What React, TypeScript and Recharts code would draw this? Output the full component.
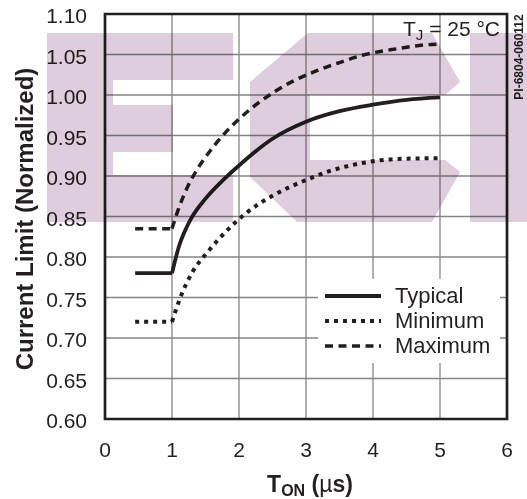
import React from 'react';
import { LineChart, Line, XAxis, YAxis, CartesianGrid, ReferenceArea, Legend, Customized } from 'recharts';

const xTicks = [0, 1, 2, 3, 4, 5, 6];
const yTicks = [0.6, 0.65, 0.7, 0.75, 0.8, 0.85, 0.9, 0.95, 1.0, 1.05, 1.1];

const typical = [
  { x: 0.45, y: 0.78 }, { x: 1.0, y: 0.78 }, { x: 1.1, y: 0.812 }, { x: 1.25, y: 0.842 },
  { x: 1.5, y: 0.872 }, { x: 1.75, y: 0.894 }, { x: 2.0, y: 0.913 }, { x: 2.5, y: 0.946 },
  { x: 3.0, y: 0.967 }, { x: 3.5, y: 0.98 }, { x: 4.0, y: 0.988 }, { x: 4.5, y: 0.994 },
  { x: 5.0, y: 0.997 },
];

const minimum = [
  { x: 0.45, y: 0.72 }, { x: 1.0, y: 0.72 }, { x: 1.12, y: 0.749 }, { x: 1.31, y: 0.782 },
  { x: 1.54, y: 0.807 }, { x: 1.86, y: 0.836 }, { x: 2.12, y: 0.855 }, { x: 2.53, y: 0.877 },
  { x: 3.0, y: 0.895 }, { x: 3.35, y: 0.906 }, { x: 3.84, y: 0.916 }, { x: 4.35, y: 0.921 },
  { x: 5.0, y: 0.922 },
];

const maximum = [
  { x: 0.45, y: 0.835 }, { x: 1.0, y: 0.835 }, { x: 1.1, y: 0.86 }, { x: 1.24, y: 0.888 },
  { x: 1.39, y: 0.91 }, { x: 1.56, y: 0.93 }, { x: 1.79, y: 0.953 }, { x: 2.01, y: 0.971 },
  { x: 2.27, y: 0.989 }, { x: 2.53, y: 1.004 }, { x: 2.83, y: 1.018 }, { x: 3.16, y: 1.03 },
  { x: 3.5, y: 1.04 }, { x: 3.84, y: 1.049 }, { x: 4.35, y: 1.057 }, { x: 4.8, y: 1.062 },
  { x: 5.0, y: 1.063 },
];

const seriesNames = ['Typical', 'Minimum', 'Maximum'];
const seriesData = [typical, minimum, maximum];

const INK = '#231f20';
const FONT = '"Liberation Sans", Arial, Helvetica, sans-serif';

// stroke look per series, same order as seriesNames
const strokes = [
  { width: 3.8, dash: undefined },
  { width: 4, dash: '4 5' },
  { width: 3.5, dash: '8 5.5' },
];

const LegendBox = () => (
  <svg width={182} height={84} style={{ display: 'block' }}>
    {seriesNames.map((name, i) => (
      <g key={name}>
        <line
          x1={7}
          x2={63}
          y1={17 + i * 25}
          y2={17 + i * 25}
          stroke={INK}
          strokeWidth={strokes[i].width}
          strokeDasharray={strokes[i].dash}
        />
        <text x={77} y={24 + i * 25} fontSize={22} fontFamily={FONT} fill={INK}>
          {name}
        </text>
      </g>
    ))}
  </svg>
);

const Annotations = () => (
  <g fill={INK} fontFamily={FONT}>
    <text x={310} y={492} textAnchor="middle" fontSize={23} fontWeight="bold">
      T<tspan fontSize={16} dy={4}>ON</tspan>
      <tspan dy={-4}> (</tspan>
      <tspan fontWeight="normal">µ</tspan>s)
    </text>
    <text
      x={24}
      y={219}
      dy="0.36em"
      transform="rotate(-90, 24, 219)"
      textAnchor="middle"
      fontSize={24}
      fontWeight="bold"
    >
      Current Limit (Normalized)
    </text>
    <text x={500} y={36} textAnchor="end" fontSize={21}>
      T<tspan fontSize={15} dy={4}>J</tspan>
      <tspan dy={-4}> = 25 °C</tspan>
    </text>
    <text
      x={519}
      y={57}
      dy="0.36em"
      transform="rotate(-90, 519, 57)"
      textAnchor="middle"
      fontSize={12}
      fontWeight="bold"
    >
      PI-6804-060112
    </text>
  </g>
);

// faint pink letters of the scanned watermark
const Watermark = () => (
  <svg
    width={527}
    height={499}
    style={{ position: 'absolute', left: 0, top: 0, mixBlendMode: 'multiply', pointerEvents: 'none', zIndex: 5 }}
  >
    <g fill="#ddcddd">
      <rect x={47} y={33} width={186} height={47} />
      <rect x={47} y={80} width={66} height={142} />
      <rect x={113} y={105} width={60} height={47} />
      <rect x={113} y={175} width={120} height={47} />
      <polygon points="250,82 308,33 432,33 460,82 445,95 310,95 310,160 445,160 460,172 432,222 297,222 250,177" />
      <rect x={470} y={33} width={57} height={189} />
    </g>
  </svg>
);

const App = () => (
  <div style={{ position: 'absolute', left: 0, top: 0, width: 527, height: 499, background: '#fff' }}>
    <LineChart width={527} height={499} margin={{ top: 14, right: 20, bottom: 0, left: 0 }}>
      <CartesianGrid stroke="#858585" strokeWidth={1.3} />
      <XAxis
        type="number"
        dataKey="x"
        domain={[0, 6]}
        ticks={xTicks}
        allowDuplicatedCategory={false}
        axisLine={false}
        tickLine={false}
        tickSize={0}
        tickMargin={23}
        height={80}
        tick={{ fill: INK, fontSize: 21, fontFamily: FONT }}
      />
      <YAxis
        type="number"
        dataKey="y"
        domain={[0.6, 1.1]}
        ticks={yTicks}
        axisLine={false}
        tickLine={false}
        tickSize={0}
        tickMargin={18}
        width={105}
        tickFormatter={(v: number) => v.toFixed(2)}
        tick={{ fill: INK, fontSize: 21, fontFamily: FONT, dy: 2 }}
      />
      <ReferenceArea x1={0} x2={6} y1={0.6} y2={1.1} fill="none" stroke={INK} strokeWidth={2.7} ifOverflow="visible" />
      {/* each curve: flat lead-in, then the rise from 1 µs drawn on its own so the corner stays sharp */}
      {seriesData.map((pts, i) => (
        <Line
          key={`${seriesNames[i]}-flat`}
          data={pts.slice(0, 2)}
          dataKey="y"
          name={seriesNames[i]}
          type="linear"
          stroke={INK}
          strokeWidth={strokes[i].width}
          strokeDasharray={strokes[i].dash}
          dot={false}
          legendType="none"
          isAnimationActive={false}
        />
      ))}
      {seriesData.map((pts, i) => (
        <Line
          key={`${seriesNames[i]}-rise`}
          data={pts.slice(1)}
          dataKey="y"
          name={seriesNames[i]}
          type="monotone"
          stroke={INK}
          strokeWidth={strokes[i].width}
          strokeDasharray={strokes[i].dash}
          dot={false}
          isAnimationActive={false}
        />
      ))}
      <Legend
        layout="vertical"
        align="center"
        verticalAlign="middle"
        content={() => <LegendBox />}
        wrapperStyle={{ left: 318, top: 279, width: 182, height: 84, background: '#fff', margin: 0, padding: 0 }}
      />
      <Customized component={<Annotations />} />
    </LineChart>
    <Watermark />
  </div>
);

export default App;
